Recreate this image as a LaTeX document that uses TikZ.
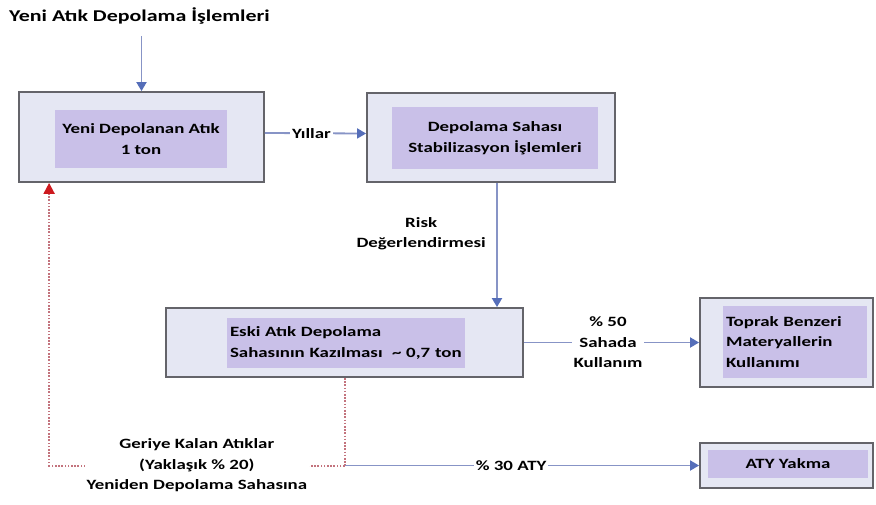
\documentclass[tikz,border=0pt]{standalone}
\usepackage{fontspec}
\setmainfont{Carlito}[FakeStretch=1.33]
\usetikzlibrary{arrows.meta}

\definecolor{boxfill}{RGB}{229,231,243}
\definecolor{innerfill}{RGB}{201,192,232}
\definecolor{boxline}{RGB}{100,100,106}
\definecolor{flowblue}{RGB}{85,110,185}
\definecolor{flowline}{RGB}{135,148,198}
\definecolor{returnred}{RGB}{205,25,30}
\definecolor{returndot}{RGB}{195,115,125}

\newcommand{\bodyfont}{\fontsize{14.2}{20.5}\selectfont\bfseries}
\newcommand{\titlefont}{\fontsize{16.5}{20}\selectfont\bfseries}

\begin{document}
\begin{tikzpicture}[x=1pt,y=-1pt,
  outerbox/.style={draw=boxline, line width=1.8pt, fill=boxfill, inner sep=0pt},
  innerbox/.style={fill=innerfill, inner sep=0pt, font=\bodyfont, align=center},
  leftinner/.style={fill=innerfill, inner xsep=3pt, inner ysep=0pt, font=\bodyfont, align=left},
  lbl/.style={font=\bodyfont, align=center, fill=white, inner sep=2pt},
  flow/.style={draw=flowline, line width=1.8pt, -{Triangle[width=10pt,length=9pt,color=flowblue]}},
  ret/.style={draw=returndot, line width=2pt, dash pattern=on 1.6pt off 1.6pt},
  retarrow/.style={ret, -{Triangle[width=11pt,length=11pt,color=returnred]}}
]
\useasboundingbox (0,0) rectangle (876,504);

% title
\node[font=\titlefont, anchor=west, inner sep=0pt] (title) at (9,16) {Yeni Atık Depolama İşlemleri};

% boxes
\node[outerbox, minimum width=245pt, minimum height=90pt] (b1) at (141.5,137) {};
\node[innerbox, minimum width=172pt, minimum height=58pt] (b1i) at (141,139) {Yeni Depolanan Atık\\1 ton};

\node[outerbox, minimum width=248pt, minimum height=89pt] (b2) at (491,137.5) {};
\node[innerbox, minimum width=206pt, minimum height=62pt] (b2i) at (495,138) {Depolama Sahası\\Stabilizasyon İşlemleri};

\node[outerbox, minimum width=357pt, minimum height=69pt] (b3) at (344.5,342.5) {};
\node[leftinner, text width=232pt, minimum height=50pt] (b3i) at (346,343) {Eski Atık Depolama\\Sahasının Kazılması\ \ \textasciitilde\ 0,7 ton};

\node[outerbox, minimum width=173pt, minimum height=89pt] (b4) at (786.5,342.5) {};
\node[leftinner, text width=138pt, minimum height=72pt] (b4i) at (795,342) {Toprak Benzeri\\Materyallerin\\Kullanımı};

\node[outerbox, minimum width=173pt, minimum height=45pt] (b5) at (786.5,465.5) {};
\node[innerbox, minimum width=160pt, minimum height=28pt] (b5i) at (788,464) {ATY Yakma};

% flows
\draw[flow, shorten <=12pt] (title.south -| b1.north) -- (b1.north);
\draw[flow] ([yshift=4pt]b1.east) -- node[lbl, pos=0.46] {Yıllar} ([yshift=4pt]b2.west);
\draw[flow] ([xshift=6pt]b2.south) -- node[pos=0.41, left=7pt, font=\bodyfont, align=center] {Risk\\Değerlendirmesi} ([xshift=6pt]b2.south |- b3.north);
\draw[flow] (b3.east) -- node[lbl, pos=0.48] {\% 50\\Sahada\\Kullanım} (b4.west);

% split below the excavation
\coordinate (bend) at (b3.south |- b5.west);
\coordinate (lc) at ([xshift=31pt]b1.south west |- bend);
\draw[ret] (b3.south) -- (bend);
\draw[flow] (bend) -- node[lbl, pos=0.47] {\% 30 ATY} (b5.west);
\draw[retarrow] (bend) -- node[lbl] {Geriye Kalan Atıklar\\(Yaklaşık \% 20)\\Yeniden Depolama Sahasına} (lc) -- ([xshift=31pt]b1.south west);
\end{tikzpicture}
\end{document}
